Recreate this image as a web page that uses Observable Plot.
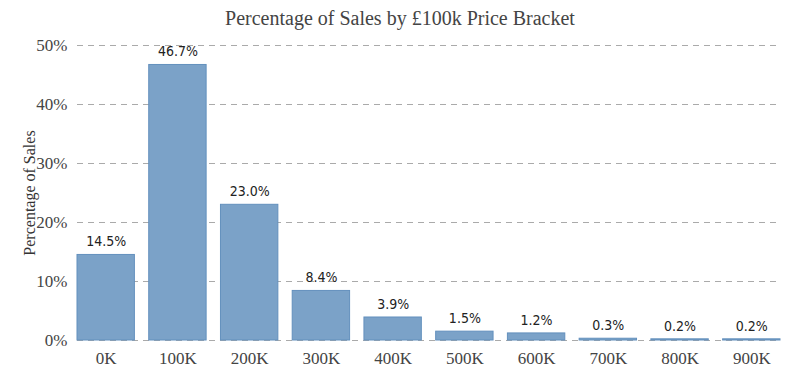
<!DOCTYPE html>
<html><head><meta charset="utf-8">
<script src="https://cdn.jsdelivr.net/npm/d3@7"></script>
<script src="https://cdn.jsdelivr.net/npm/@observablehq/plot@0.6"></script>
<style>
body{margin:0;background:#fff;}
#title{height:32px;line-height:36px;text-align:center;font-family:"Liberation Serif",Georgia,serif;font-size:20px;color:#444;width:800px;}
</style></head><body>
<div id="title">Percentage of Sales by £100k Price Bracket</div>
<div id="chart"></div>
<script>
const brackets = ["0K","100K","200K","300K","400K","500K","600K","700K","800K","900K"];
const shares = [14.5,46.7,23.0,8.4,3.9,1.5,1.2,0.3,0.2,0.2];
const yTicks = [0,10,20,30,40,50];
const data = brackets.map((b,i)=>({bracket:b, share:shares[i]}));
const plot = Plot.plot({
  width:800, height:355,
  marginTop:13, marginBottom:47, marginLeft:77, marginRight:20,
  style:{fontFamily:'"Liberation Serif",Georgia,serif', fontSize:"17px", color:"#444", background:"#fff"},
  x:{domain:brackets, paddingInner:0.2, paddingOuter:0, round:false, label:null, tickSize:0, tickPadding:10},
  y:{domain:[0,50], ticks:yTicks, tickFormat:d=>d+"%", label:null, tickSize:0, tickPadding:10},
  marks:[
    Plot.ruleY(yTicks,{stroke:"#aaa", strokeDasharray:"6,5", strokeWidth:1}),
    Plot.barY(data,{x:"bracket", y:"share", fill:"#7ba2c8", stroke:"#6390bd", strokeWidth:1}),
    Plot.text(data,{x:"bracket", y:"share", text:d=>d.share.toFixed(1)+"%", dy:-13, fontFamily:'"DejaVu Sans Condensed","DejaVu Sans",sans-serif', fontSize:14, fill:"#222"}),
    Plot.axisX({tickSize:0, tickPadding:11, fontSize:17}),
    Plot.axisY({ticks:yTicks, tickFormat:d=>d+"%", tickSize:0, tickPadding:10, fontSize:17}),
    Plot.text(["Percentage of Sales"],{frameAnchor:"left", textAnchor:"middle", rotate:-90, dx:-48, fontSize:16, fill:"#333"})
  ]
});
document.getElementById("chart").appendChild(plot);
</script></body></html>
